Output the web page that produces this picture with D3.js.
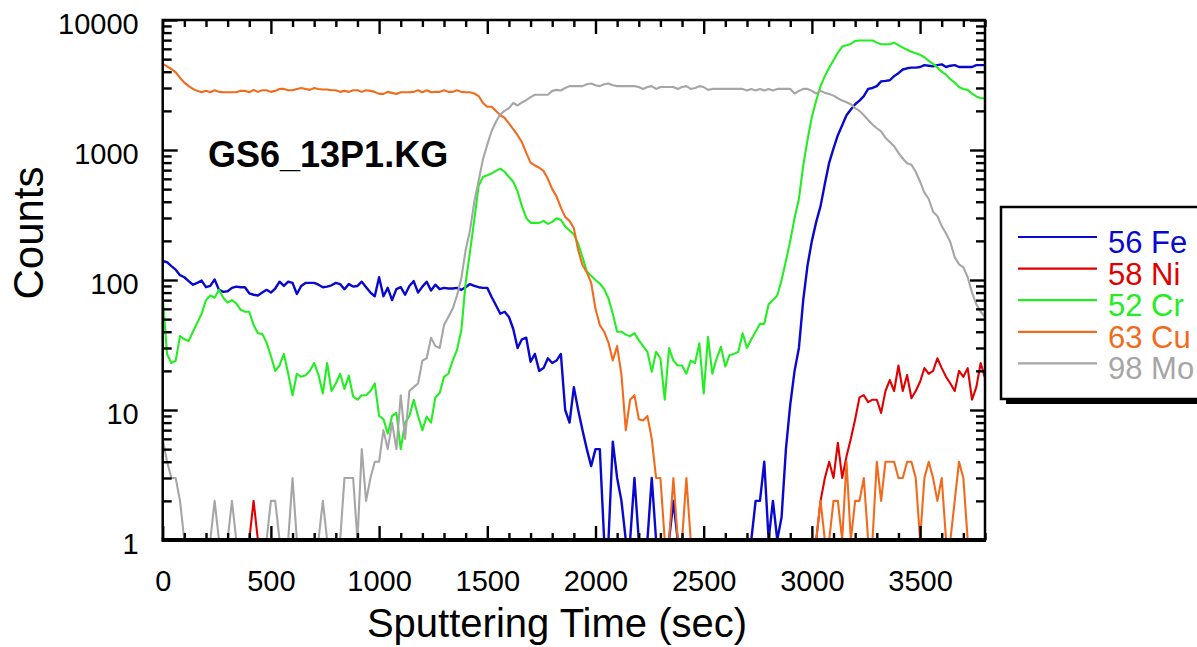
<!DOCTYPE html>
<html>
<head>
<meta charset="utf-8">
<script src="https://cdnjs.cloudflare.com/ajax/libs/d3/7.8.5/d3.min.js"></script>
<style>
  body { margin: 0; background: #fff; }
  svg { display: block; }
</style>
</head>
<body>
<script>
// sputtering time, sec
var times = [
  0,20,40,60,80,100,120,140,160,180,
  200,220,240,260,280,300,320,340,360,380,
  400,420,440,460,480,500,520,540,560,580,
  600,620,640,660,680,700,720,740,760,780,
  800,820,840,860,880,900,920,940,960,980,
  1000,1020,1040,1060,1080,1100,1120,1140,1160,1180,
  1200,1220,1240,1260,1280,1300,1320,1340,1360,1380,
  1400,1420,1440,1460,1480,1500,1520,1540,1560,1580,
  1600,1620,1640,1660,1680,1700,1720,1740,1760,1780,
  1800,1820,1840,1860,1880,1900,1920,1940,1960,1980,
  2000,2020,2040,2060,2080,2100,2120,2140,2160,2180,
  2200,2220,2240,2260,2280,2300,2320,2340,2360,2380,
  2400,2420,2440,2460,2480,2500,2520,2540,2560,2580,
  2600,2620,2640,2660,2680,2700,2720,2740,2760,2780,
  2800,2820,2840,2860,2880,2900,2920,2940,2960,2980,
  3000,3020,3040,3060,3080,3100,3120,3140,3160,3180,
  3200,3220,3240,3260,3280,3300,3320,3340,3360,3380,
  3400,3420,3440,3460,3480,3500,3520,3540,3560,3580,
  3600,3620,3640,3660,3680,3700,3720,3740,3760,3780,
  3800
];

var fe56 = [
  140,137,128,120,109,105,98,92,95,99,
  88,90,101,84,81,82,87,89,88,88,
  79,77,76,80,84,80,86,97,90,97,
  95,78,90,95,95,95,92,88,89,91,
  95,93,85,93,89,90,97,88,80,75,
  105,75,87,70,85,88,77,90,98,80,
  89,97,83,92,85,87,86,86,87,84,
  88,93,90,88,87,87,74,64,55,57,
  52,42,30,35,36,23.5,27,20,21,25,
  23,24,27,10,8,15,10,7,5,3.7,
  5,5,0,0,5.7,3,2,0,0,3,
  0,0,0,3,0,0,0,0,2,0,
  0,0,0,0,0,0,0,0,0,0,
  0,0,0,0,0,0,0,2,2,4,
  0,2,0,1.5,5,11,20,30,70,130,
  200,280,370,550,800,1030,1300,1550,1850,2050,
  2250,2400,2600,2950,3000,3100,3370,3400,3440,3700,
  3900,4160,4250,4300,4300,4350,4500,4450,4400,4500,
  4560,4350,4450,4500,4350,4350,4350,4350,4500,4500,
  4500
];

var ni58 = [
  0,0,0,0,0,0,0,0,0,0,
  0,0,0,0,0,0,0,0,0,0,
  0,2,0,0,0,0,0,0,0,0,
  0,0,0,0,0,0,0,0,0,0,
  0,0,0,0,0,0,0,0,0,0,
  0,0,0,0,0,0,0,0,0,0,
  0,0,0,0,0,0,0,0,0,0,
  0,0,0,0,0,0,0,0,0,0,
  0,0,0,0,0,0,0,0,0,0,
  0,0,0,0,0,0,0,0,0,0,
  0,0,0,0,0,0,0,0,0,0,
  0,0,0,0,0,0,0,0,0,0,
  0,0,0,0,0,0,0,0,0,0,
  0,0,0,0,0,0,0,0,0,0,
  0,0,0,0,0,0,0,0,0,0,
  0,0,2,3,4,3,5.6,3,4.4,6,
  8.5,12.5,13,11.5,12,12,9.5,14,17,14,
  22,14,18.6,12.3,14,16.5,21,19,20,25,
  21,18,16,14,20,18,21,12,15,23,
  17.6
];

var cr52 = [
  75,27,23,24,37,35,34,40,47,55,
  70,76,73,84,73,67,70,66,59,57,
  57,45,39,38.5,33,26,20,22,27,19,
  13,19,18,18.5,20,23,18.6,13.4,23,14,
  16,19,14.5,18.4,12.7,12,13,13,14,16,
  9,8.5,6.6,9,9.5,5,8,9,12,9,
  7,8.9,8,12.5,13.5,18,19,24,29,41,
  95,165,290,530,620,640,660,690,720,680,
  620,570,480,370,300,275,275,275,285,270,
  280,298,290,258,240,225,190,150,116,108,
  100,94,85,72,55,40,40,38,37,39,
  34.5,31,28,19.7,28,25,12,30,24,22,
  22,19,24,23,32.6,13.4,36.5,19,25,30.6,
  21.6,26.5,27,28,39,30,35,40,46,46,
  65,70,76,100,140,200,300,420,760,1200,
  1800,2400,3100,3700,4300,4900,5600,6250,6400,6550,
  6900,6950,6950,6950,6950,6700,6500,6500,6500,6700,
  6400,6130,5900,5700,5550,5400,5170,4850,4600,4300,
  4000,3800,3500,3300,3050,2950,2900,2710,2580,2500,
  2500
];

var cu63 = [
  4600,4400,4200,3950,3600,3300,3100,2950,2850,2780,
  2850,2780,2880,2800,2780,2780,2780,2780,2850,2850,
  2780,2900,2800,2880,2880,2800,2850,2950,2950,2880,
  2880,2950,3000,2950,2900,3000,2950,2920,2920,2880,
  2880,2800,2850,2800,2880,2880,2800,2880,2850,2800,
  2700,2700,2800,2750,2700,2780,2780,2780,2800,2880,
  2780,2880,2780,2800,2800,2880,2800,2800,2880,2800,
  2780,2780,2720,2600,2300,2150,2150,2000,1850,1770,
  1600,1450,1300,1150,950,800,760,730,690,600,
  500,440,360,305,285,250,170,130,115,95,
  60,45,40,33,24,31,18.6,7,12,13,
  8.5,8.3,9,6,3,3,0,0,3,0,
  0,3,0,0,0,0,0,0,0,0,
  0,0,0,0,0,0,0,0,0,0,
  0,0,0,0,0,0,0,0,0,0,
  0,0,2,0,0,2,2,0,4,0,
  2,2,3,0,0,4,2,4,4,4,
  3,3,4,4,3,0,3,4,3,2,
  3,0,0,2,4,3,0,0,0,0,
  0
];

var mo98 = [
  6,4,3,3,2,0,0,0,0,0,
  0,0,2,0,0,0,2,0,0,0,
  0,0,0,0,0,2,2,0,0,0,
  3,0,0,0,0,0,0,2,0,0,
  0,0,3,3,3,0,5,2,3,4,
  4,7,5,8,5,13,6,14,15,16,
  24,25,36,31,30,45,52,60,76,103,
  170,240,400,580,850,1100,1400,1650,1880,2000,
  2100,2300,2200,2320,2420,2550,2660,2660,2660,2660,
  2850,2900,2870,3000,3100,3100,3100,3100,3200,3250,
  3150,3100,3200,3250,3150,3100,3100,3100,3100,3100,
  3050,2950,3050,3100,2950,3050,3050,3050,3050,2950,
  3050,3100,2950,3000,3100,3050,2900,2950,2950,2950,
  2950,2950,2950,2950,2950,2870,2950,2870,2950,2870,
  2950,2870,2950,2950,2950,2950,2720,2850,2950,2950,
  2850,2720,2850,2750,2700,2620,2500,2400,2330,2250,
  2100,2000,1850,1700,1570,1470,1390,1240,1150,1070,
  950,860,790,770,680,570,470,420,335,310,
  260,228,195,150,132,125,105,80,65,57,
  52
];

var seriesNames = ['56 Fe', '58 Ni', '52 Cr', '63 Cu', '98 Mo'];
var seriesValues = [fe56, ni58, cr52, cu63, mo98];
var seriesColors = ['#0808d0', '#e00000', '#22ee22', '#f26b1d', '#a6a6a6'];

var xTicks = [0, 500, 1000, 1500, 2000, 2500, 3000, 3500];
var yTicks = [1, 10, 100, 1000, 10000];
var sampleName = 'GS6_13P1.KG';

var font = 'Arial, "Liberation Sans", sans-serif';

var plot = {left: 162.7, right: 985, top: 20, bottom: 540};

var svg = d3.select('body')
  .append('svg')
  .attr('width', 1197)
  .attr('height', 647)
  .attr('font-family', font);

var x = d3.scaleLinear()
  .domain([0, 3800])
  .range([plot.left, plot.right]);

var y = d3.scaleLog()
  .domain([1, 10000])
  .range([plot.bottom, plot.top])
  .clamp(true);

// minor tick positions
var xMinor = d3.range(0, 3801, 100).filter(function(d) { return d % 500 !== 0; });
var yMinor = [];
[1, 10, 100, 1000].forEach(function(dec) {
  for (var k = 2; k <= 9; k++) yMinor.push(dec * k);
});

svg.append('clipPath').attr('id', 'plotclip')
  .append('rect')
  .attr('x', plot.left)
  .attr('y', plot.top)
  .attr('width', plot.right - plot.left)
  .attr('height', plot.bottom - plot.top);

// data lines
var line = d3.line()
  .x(function(d) { return x(d.t); })
  .y(function(d) { return y(Math.max(d.v, 1)); });

var lines = svg.append('g').attr('clip-path', 'url(#plotclip)');

seriesValues.forEach(function(vals, i) {
  var pts = times.map(function(t, j) { return {t: t, v: vals[j]}; });
  lines.append('path')
    .datum(pts)
    .attr('fill', 'none')
    .attr('stroke', seriesColors[i])
    .attr('stroke-width', i === 0 ? 2.4 : 2.1)
    .attr('stroke-linejoin', 'round')
    .attr('d', line);
});

// axes, ticks point inward
function addAxis(axis, translate) {
  var g = svg.append('g')
    .attr('transform', translate)
    .call(axis);
  g.select('.domain').remove();
  g.selectAll('.tick line').attr('stroke', '#000').attr('stroke-width', 2.4);
  g.attr('font-family', font).attr('font-size', 29);
  g.selectAll('.tick text').attr('fill', '#000');
  return g;
}

addAxis(d3.axisBottom(x).tickValues(xTicks).tickSize(-14).tickPadding(30).tickFormat(d3.format('d')),
  'translate(0,' + plot.bottom + ')');
addAxis(d3.axisBottom(x).tickValues(xMinor).tickSize(-7).tickFormat(''),
  'translate(0,' + plot.bottom + ')');
addAxis(d3.axisTop(x).tickValues(xTicks).tickSize(-14).tickFormat(''),
  'translate(0,' + plot.top + ')');
addAxis(d3.axisTop(x).tickValues(xMinor).tickSize(-7).tickFormat(''),
  'translate(0,' + plot.top + ')');

var yAxisG = addAxis(d3.axisLeft(y).tickValues(yTicks).tickSize(-15).tickPadding(24).tickFormat(d3.format('d')),
  'translate(' + plot.left + ',0)');
yAxisG.selectAll('.tick text').attr('dy', '0.45em');
addAxis(d3.axisLeft(y).tickValues(yMinor).tickSize(-9).tickFormat(''),
  'translate(' + plot.left + ',0)');
addAxis(d3.axisRight(y).tickValues(yTicks).tickSize(-15).tickFormat(''),
  'translate(' + plot.right + ',0)');
addAxis(d3.axisRight(y).tickValues(yMinor).tickSize(-9).tickFormat(''),
  'translate(' + plot.right + ',0)');

// frame
svg.append('rect')
  .attr('x', plot.left)
  .attr('y', plot.top)
  .attr('width', plot.right - plot.left)
  .attr('height', plot.bottom - plot.top)
  .attr('fill', 'none')
  .attr('stroke', '#000')
  .attr('stroke-width', 2.5);

svg.append('line')
  .attr('x1', plot.left - 1)
  .attr('x2', plot.right + 1)
  .attr('y1', plot.bottom)
  .attr('y2', plot.bottom)
  .attr('stroke', '#000')
  .attr('stroke-width', 4);

// axis titles
svg.append('text')
  .attr('transform', 'translate(43,233) rotate(-90)')
  .attr('text-anchor', 'middle')
  .attr('font-size', 42)
  .text('Counts');

svg.append('text')
  .attr('x', 557)
  .attr('y', 637)
  .attr('text-anchor', 'middle')
  .attr('font-size', 40)
  .text('Sputtering Time (sec)');

svg.append('text')
  .attr('x', 208)
  .attr('y', 167)
  .attr('font-size', 36)
  .attr('font-weight', 'bold')
  .text(sampleName);

// legend box with shadow
var legend = svg.append('g').attr('transform', 'translate(1001,207)');

legend.append('rect')
  .attr('x', 5).attr('y', 5)
  .attr('width', 300).attr('height', 192)
  .attr('fill', '#000');

legend.append('rect')
  .attr('x', 0).attr('y', 0)
  .attr('width', 300).attr('height', 192)
  .attr('fill', '#fff')
  .attr('stroke', '#000')
  .attr('stroke-width', 2.5);

seriesNames.forEach(function(name, i) {
  var ly = 30 + i * 31.6;
  legend.append('line')
    .attr('x1', 17).attr('x2', 96)
    .attr('y1', ly).attr('y2', ly)
    .attr('stroke', seriesColors[i])
    .attr('stroke-width', 2.2);
  legend.append('text')
    .attr('x', 107)
    .attr('y', ly + 16)
    .attr('font-size', 31)
    .attr('fill', seriesColors[i])
    .text(name);
});
</script>
</body>
</html>
